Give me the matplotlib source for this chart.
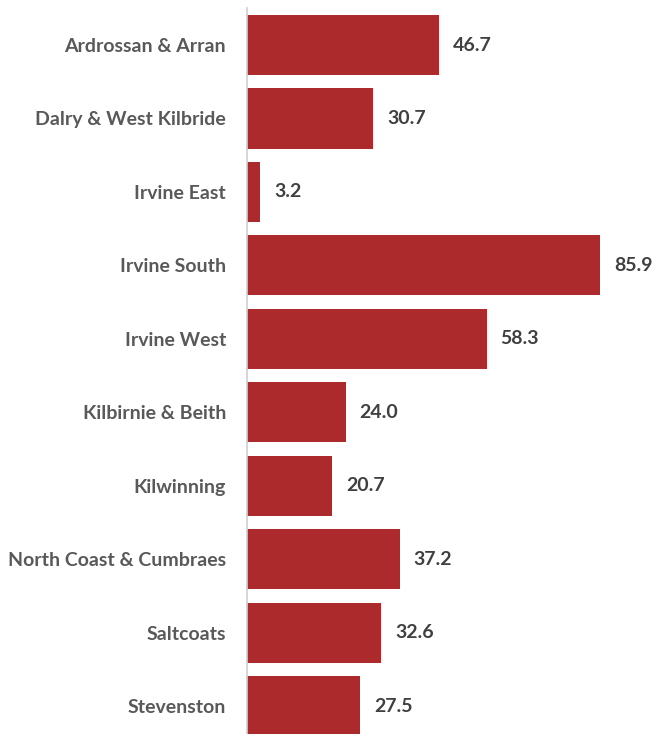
import matplotlib.pyplot as plt
import numpy as np

areas = ["Ardrossan & Arran", "Dalry & West Kilbride", "Irvine East", "Irvine South",
         "Irvine West", "Kilbirnie & Beith", "Kilwinning", "North Coast & Cumbraes",
         "Saltcoats", "Stevenston"]
values = [46.7, 30.7, 3.2, 85.9, 58.3, 24.0, 20.7, 37.2, 32.6, 27.5]

plt.rcParams['font.family'] = ['Lato', 'DejaVu Sans']

fig = plt.figure(figsize=(6.53, 7.34), dpi=100)
axis = fig.add_axes([247 / 653, 0, 406 / 653, 1 - 8 / 734])

y = np.arange(len(areas))
bars = axis.barh(y, values, height=0.82, color='#AD2A2C')

axis.set_xlim(0, 98.8)
axis.set_ylim(9.38, -0.504)
axis.set_yticks(y)
axis.set_yticklabels(areas, fontsize=14, fontweight='bold', color='#595959')
axis.tick_params(axis='y', length=0, pad=15)
axis.set_xticks([])
for side in ['top', 'right', 'bottom']:
    axis.spines[side].set_visible(False)
axis.spines['left'].set_color('#D0D0D0')
axis.spines['left'].set_linewidth(1.2)

for bar, v in zip(bars, values):
    axis.annotate(f'{v:.1f}', xy=(bar.get_width(), bar.get_y() + bar.get_height() / 2),
                  xytext=(10, 0), textcoords="offset points", ha='left', va='center',
                  fontsize=14, fontweight='bold', color='#404040')

plt.savefig("out.png", dpi=100)
